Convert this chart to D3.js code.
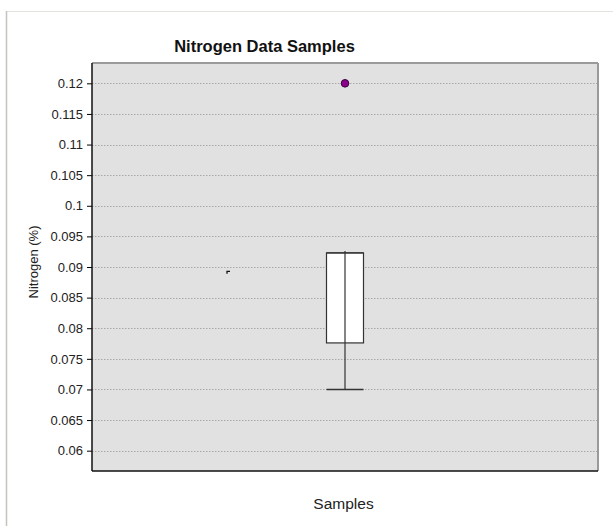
<!DOCTYPE html>
<html>
<head>
<meta charset="utf-8">
<script src="https://cdn.jsdelivr.net/npm/d3@7"></script>
<style>
  body { margin: 0; background: #fff; }
  svg { display: block; font-family: "Liberation Sans", Arial, sans-serif; }
</style>
</head>
<body>
<script>
// box plot summary
const category = "Samples";
const lowWhisker = 0.070;
const q1 = 0.0776;
const median = 0.0923;
const q3 = 0.0923;
const highWhisker = 0.0926;
const meanValue = 0.0893;
const outliers = [0.12];
const yTicks = [0.06, 0.065, 0.07, 0.075, 0.08, 0.085, 0.09, 0.095, 0.1, 0.105, 0.11, 0.115, 0.12];

const width = 613, height = 526;
const margin = {top: 63, left: 92, right: 15, bottom: 55};

const svg = d3.select("body").append("svg")
  .attr("width", width)
  .attr("height", height);

// outer frame
svg.append("line").attr("x1", 6).attr("x2", width).attr("y1", 11.5).attr("y2", 11.5)
  .attr("stroke", "#e4e4dc").attr("stroke-width", 1);
svg.append("line").attr("x1", 6.5).attr("x2", 6.5).attr("y1", 11).attr("y2", height)
  .attr("stroke", "#c4c4bc").attr("stroke-width", 1.5);

const pw = width - margin.left - margin.right;
const plotH = 471 - margin.top;

const g = svg.append("g").attr("transform", `translate(${margin.left},${margin.top})`);

const x = d3.scaleBand().domain([category]).range([0, pw]).padding(0);
const y = d3.scaleLinear().domain([0.05668, 0.12332]).range([plotH, 0]);

// background
g.append("rect").attr("width", pw).attr("height", plotH).attr("fill", "#e1e1e1");

// grid
g.append("g").selectAll("line").data(yTicks).enter().append("line")
  .attr("x1", 0).attr("x2", pw)
  .attr("y1", d => Math.round(y(d)) + 0.5).attr("y2", d => Math.round(y(d)) + 0.5)
  .attr("stroke", "#a8a8a8").attr("stroke-dasharray", "1.5,1.5");

// frame: gray top/right, black left/bottom
g.append("line").attr("x1", 0).attr("x2", pw).attr("y1", 0).attr("y2", 0)
  .attr("stroke", "#9a9a9a").attr("stroke-width", 2);
g.append("line").attr("x1", pw).attr("x2", pw).attr("y1", 0).attr("y2", plotH)
  .attr("stroke", "#9a9a9a").attr("stroke-width", 2);

// y axis
const yAxis = d3.axisLeft(y).tickValues(yTicks).tickSize(5).tickPadding(4)
  .tickFormat(d => d3.format("")(+d.toFixed(3)));
g.append("g").call(yAxis)
  .call(a => a.select(".domain").remove())
  .call(a => a.selectAll("text").attr("font-size", 13).attr("fill", "#222")
    .style("font-family", "'Liberation Sans', Arial, sans-serif"))
  .call(a => a.selectAll("line").attr("stroke", "#000"));

g.append("line").attr("x1", 0).attr("x2", 0).attr("y1", 0).attr("y2", plotH)
  .attr("stroke", "#111").attr("stroke-width", 1.5);
g.append("line").attr("x1", 0).attr("x2", pw).attr("y1", plotH).attr("y2", plotH)
  .attr("stroke", "#111").attr("stroke-width", 1.5);

// box
const cx = x(category) + x.bandwidth() / 2;
const bw = 37;
g.append("rect")
  .attr("x", cx - bw / 2).attr("width", bw)
  .attr("y", y(q3)).attr("height", y(q1) - y(q3))
  .attr("fill", "#fff").attr("stroke", "#333").attr("stroke-width", 1.2);
g.append("line")
  .attr("x1", cx - bw / 2).attr("x2", cx + bw / 2)
  .attr("y1", y(median)).attr("y2", y(median))
  .attr("stroke", "#333").attr("stroke-width", 1.2);
g.append("line")
  .attr("x1", cx).attr("x2", cx)
  .attr("y1", y(lowWhisker)).attr("y2", y(highWhisker))
  .attr("stroke", "#333").attr("stroke-width", 1.2);
g.append("line")
  .attr("x1", cx - bw / 2).attr("x2", cx + bw / 2)
  .attr("y1", y(lowWhisker)).attr("y2", y(lowWhisker))
  .attr("stroke", "#333").attr("stroke-width", 1.5);

// stray mean mark
const mx = cx - 118;
g.append("path")
  .attr("d", `M${mx},${y(meanValue) + 2.5}V${y(meanValue)}H${mx + 3}`)
  .attr("fill", "none").attr("stroke", "#111").attr("stroke-width", 1.3);

// outliers
g.selectAll("circle.out").data(outliers).enter().append("circle")
  .attr("class", "out")
  .attr("cx", cx).attr("cy", d => y(d)).attr("r", 3.8)
  .attr("fill", "#8b008b").attr("stroke", "#3a003a").attr("stroke-width", 1);

// titles
svg.append("text").attr("x", 264.5).attr("y", 52).attr("text-anchor", "middle")
  .attr("font-size", 16.5).attr("font-weight", "bold").attr("fill", "#111")
  .text("Nitrogen Data Samples");
svg.append("text").attr("x", 343.5).attr("y", 509).attr("text-anchor", "middle")
  .attr("font-size", 15.5).attr("fill", "#222").text(category);
svg.append("text").attr("transform", "translate(38,262) rotate(-90)")
  .attr("text-anchor", "middle").attr("font-size", 13).attr("fill", "#222")
  .text("Nitrogen (%)");
</script>
</body>
</html>
